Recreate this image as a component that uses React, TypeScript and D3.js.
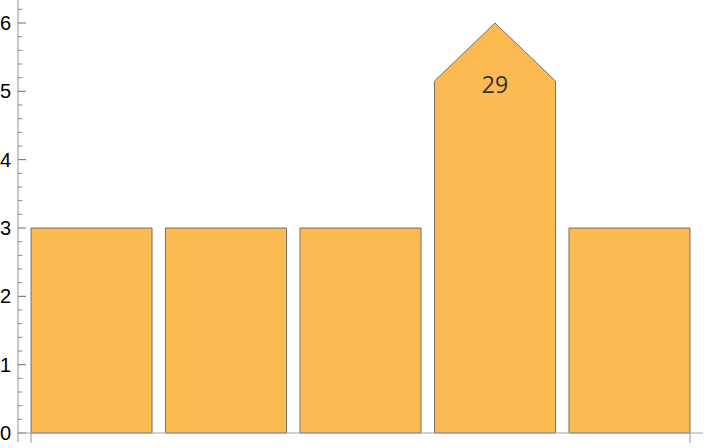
import React from "react";
import * as d3 from "d3";

const categories = ["a", "b", "c", "d", "e"];
const values = [3, 3, 3, 6, 3];
const shoulders = [null, null, null, 5.15, null];
const barLabels = ["", "", "", "29", ""];
const yMajorTicks = [0, 1, 2, 3, 4, 5, 6];

const W = 720;
const H = 448;

export default function App() {
  const y = d3.scaleLinear().domain([0, 6]).range([433, 23]);
  const x = d3.scaleBand<string>().domain(categories).range([31, 690]).paddingInner(0.1).paddingOuter(0);
  const minor: number[] = [];
  for (let i = 0; i <= 32; i++) {
    const v = i * 0.2;
    if (Math.abs(v - Math.round(v)) > 1e-6 && y(v) >= 0) minor.push(v);
  }
  const axisColor = "#a6a6a6";
  const tickColor = "#6e6e6e";
  return (
    <div style={{ position: "absolute", left: 0, top: 0 }}>
      <svg width={W} height={H} style={{ display: "block" }}>
        {categories.map((c, i) => {
          const x0 = x(c)!;
          const x1 = x0 + x.bandwidth();
          const xm = (x0 + x1) / 2;
          const s = shoulders[i];
          let d: string;
          if (s != null) {
            d = `M${x0},${y(0)}L${x0},${y(s)}L${xm},${y(values[i])}L${x1},${y(s)}L${x1},${y(0)}Z`;
          } else {
            d = `M${x0},${y(0)}L${x0},${y(values[i])}L${x1},${y(values[i])}L${x1},${y(0)}Z`;
          }
          return (
            <g key={c}>
              <path d={d} fill="#fbba52" stroke="#555" strokeWidth={0.8} />
              {barLabels[i] && (
                <text x={xm} y={y(s ?? values[i]) + 3} textAnchor="middle" dominantBaseline="central"
                  fontFamily="'Open Sans', sans-serif" fontSize={23} fill="#333">{barLabels[i]}</text>
              )}
            </g>
          );
        })}
        {/* y axis */}
        <line x1={18} x2={18} y1={0} y2={442} stroke={axisColor} strokeWidth={1.2} />
        {yMajorTicks.map((t) => (
          <g key={t}>
            <line x1={18} x2={26} y1={y(t)} y2={y(t)} stroke={tickColor} strokeWidth={1} />
            <text x={11} y={y(t)} textAnchor="end" dominantBaseline="central"
              fontFamily="'Liberation Sans', Arial, sans-serif" fontSize={20} fill="#000">{t}</text>
          </g>
        ))}
        {minor.map((t) => (
          <line key={t} x1={18} x2={22.5} y1={y(t)} y2={y(t)} stroke={tickColor} strokeWidth={0.8} />
        ))}
        {/* x axis */}
        <line x1={18} x2={703} y1={433} y2={433} stroke={axisColor} strokeWidth={1.2} />
        {[x(categories[0])!, x(categories[categories.length - 1])! + x.bandwidth()].map((px, i) => (
          <line key={i} x1={px} x2={px} y1={433} y2={443} stroke={axisColor} strokeWidth={1.2} />
        ))}
      </svg>
    </div>
  );
}
